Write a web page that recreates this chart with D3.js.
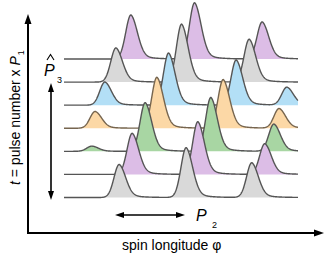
<!DOCTYPE html>
<html>
<head>
<meta charset="utf-8">
<script src="https://cdn.jsdelivr.net/npm/d3@7"></script>
<style>
  body { margin: 0; background: #fff; }
  text { font-family: "Liberation Sans", Arial, sans-serif; }
</style>
</head>
<body>
<div id="chart"></div>
<script>
// rows listed top (latest pulse) to bottom (first pulse)
const rowColors = ['#dcbde6', '#d9d9d9', '#b3dff6', '#fcd8a6', '#a8d6a3', '#dcbde6', '#d9d9d9'];
const rowStrokes = ['#555', '#555', '#555', '#76654f', '#555', '#555', '#555'];
// peak longitudes (degrees) per row
const peakCenters = [
  [103, 201, 305],
  [80, 181, 285],
  [63, 161, 265, 343],
  [48, 143, 245, 331],
  [43, 125, 226, 323],
  [105, 206, 309],
  [85, 188, 289]
];
// peak heights (relative) per row
const peakHeights = [
  [0.76, 0.97, 0.64],
  [0.59, 1.00, 0.74],
  [0.40, 0.90, 0.78, 0.31],
  [0.29, 0.88, 0.84, 0.34],
  [0.09, 0.84, 0.93, 0.47],
  [0.71, 0.91, 0.53],
  [0.57, 0.86, 0.60]
];

const width = 331, height = 260;

const svg = d3.select('#chart').append('svg')
  .attr('width', width)
  .attr('height', height);

const x = d3.scaleLinear().domain([0, 360]).range([64, 298]);
const rowY = d3.scaleLinear().domain([0, rowColors.length - 1]).range([59, 197.5]);
const amp = d3.scaleLinear().domain([0, 1]).range([0, 58]);

// single pulse profile: steep leading edge, slower trailing edge with a tail
const sl = 8, sr = 10, tau = 18, tailFrac = 0.16;
function pulse(d) {
  if (d < 0) return Math.exp(-0.5 * (d / sl) ** 2);
  return (1 - tailFrac) * Math.exp(-0.5 * (d / sr) ** 2) + tailFrac * Math.exp(-d / tau);
}

const phis = d3.range(0, 360.01, 0.5);

rowColors.forEach((col, i) => {
  const base = rowY(i);
  const pts = phis.map(p => {
    let v = 0;
    peakCenters[i].forEach((c, k) => { v += peakHeights[i][k] * pulse(p - c); });
    return { p, v };
  });

  const area = d3.area()
    .x(d => x(d.p))
    .y0(base)
    .y1(d => base - amp(d.v));
  const line = d3.line()
    .x(d => x(d.p))
    .y(d => base - amp(d.v));

  svg.append('path')
    .attr('d', area(pts))
    .attr('fill', col);
  svg.append('path')
    .attr('d', line(pts))
    .attr('fill', 'none')
    .attr('stroke', rowStrokes[i])
    .attr('stroke-width', 1.4)
    .attr('stroke-linejoin', 'round');
});

// arrow helper
function arrowHead(x0, y0, dir, size, w) {
  // dir: 'up','down','left','right' ; (x0,y0) is the tip
  let p;
  if (dir === 'up') p = [[x0, y0], [x0 - w, y0 + size], [x0 + w, y0 + size]];
  if (dir === 'down') p = [[x0, y0], [x0 - w, y0 - size], [x0 + w, y0 - size]];
  if (dir === 'left') p = [[x0, y0], [x0 + size, y0 - w], [x0 + size, y0 + w]];
  if (dir === 'right') p = [[x0, y0], [x0 - size, y0 - w], [x0 - size, y0 + w]];
  svg.append('path').attr('d', d3.line()(p) + 'Z').attr('fill', '#000');
}

// main axes
const axX = 28, axY = 233;
svg.append('line').attr('x1', axX).attr('x2', axX).attr('y1', axY + 1).attr('y2', 22)
  .attr('stroke', '#000').attr('stroke-width', 2);
arrowHead(axX, 14, 'up', 10, 3.5);
svg.append('line').attr('x1', axX - 1).attr('x2', 315).attr('y1', axY).attr('y2', axY)
  .attr('stroke', '#000').attr('stroke-width', 2);
arrowHead(324, axY, 'right', 10, 3.5);

// P3 vertical double arrow
svg.append('line').attr('x1', 51).attr('x2', 51).attr('y1', 90).attr('y2', 193)
  .attr('stroke', '#000').attr('stroke-width', 1.6);
arrowHead(51, 83, 'up', 9, 3);
arrowHead(51, 200, 'down', 9, 3);

// P2 horizontal double arrow
svg.append('line').attr('x1', 122).attr('x2', 178).attr('y1', 215).attr('y2', 215)
  .attr('stroke', '#000').attr('stroke-width', 1.6);
arrowHead(115, 215, 'left', 9, 3);
arrowHead(185, 215, 'right', 9, 3);

// y label
const yl = svg.append('text')
  .attr('transform', 'translate(20,185) rotate(-90)')
  .attr('font-size', 14)
  .attr('fill', '#000');
yl.append('tspan').attr('font-style', 'italic').text('t');
yl.append('tspan').text(' = pulse number x ');
yl.append('tspan').attr('font-style', 'italic').text('P');
yl.append('tspan').attr('font-size', 9).attr('dy', 4).attr('dx', 1).text('1');

// x label
svg.append('text')
  .attr('x', 122).attr('y', 250)
  .attr('font-size', 14)
  .attr('fill', '#000')
  .text('spin longitude φ');

// P hat 3
svg.append('text')
  .attr('x', 44).attr('y', 76)
  .attr('font-size', 16).attr('font-style', 'italic')
  .text('P');
svg.append('path')
  .attr('d', 'M47,60 L50.5,54.5 L54,60')
  .attr('fill', 'none').attr('stroke', '#000').attr('stroke-width', 1.1);
svg.append('text')
  .attr('x', 57).attr('y', 83)
  .attr('font-size', 9)
  .text('3');

// P2
svg.append('text')
  .attr('x', 196).attr('y', 221)
  .attr('font-size', 16).attr('font-style', 'italic')
  .text('P');
svg.append('text')
  .attr('x', 212).attr('y', 228)
  .attr('font-size', 9)
  .text('2');
</script>
</body>
</html>
